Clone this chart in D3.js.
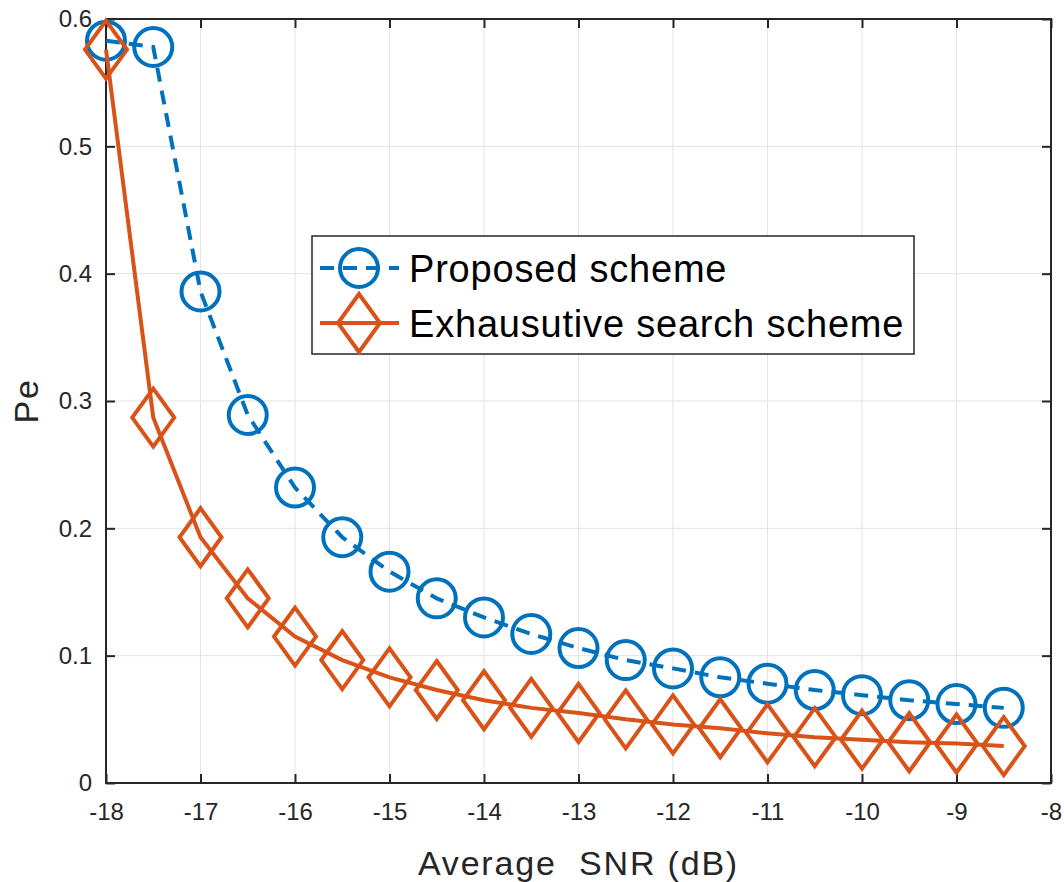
<!DOCTYPE html>
<html>
<head>
<meta charset="utf-8">
<script src="https://cdn.jsdelivr.net/npm/d3@7"></script>
<style>
  html, body { margin: 0; padding: 0; background: #fff; }
  svg { display: block; font-family: "Liberation Sans", Arial, Helvetica, sans-serif; }
  .title { white-space: pre; }
</style>
</head>
<body>
<svg id="chart" width="1064" height="882"></svg>
<script>
// SNR sweep (dB)
const snr = [-18, -17.5, -17, -16.5, -16, -15.5, -15, -14.5, -14, -13.5,
             -13, -12.5, -12, -11.5, -11, -10.5, -10, -9.5, -9, -8.5];
// Error probability of the proposed scheme
const peProposed = [0.583, 0.578, 0.386, 0.289, 0.232, 0.193, 0.166, 0.145, 0.130, 0.117,
                    0.106, 0.0965, 0.090, 0.083, 0.078, 0.073, 0.069, 0.065, 0.062, 0.059];
// Error probability of exhaustive search
const peExhaustive = [0.576, 0.287, 0.193, 0.145, 0.115, 0.0965, 0.083, 0.073, 0.065, 0.059,
                      0.055, 0.050, 0.046, 0.043, 0.039, 0.036, 0.034, 0.032, 0.031, 0.029];
const xTicks = [-18, -17, -16, -15, -14, -13, -12, -11, -10, -9, -8];
const yTicks = [0, 0.1, 0.2, 0.3, 0.4, 0.5, 0.6];
const seriesNames = ["Proposed scheme", "Exhausutive search scheme"];

const BLUE = "#0072BD", ORANGE = "#D95319", AXIS = "#262626";
const svg = d3.select("#chart");
const L = 106, R = 1051, T = 19, B = 783;

const x = d3.scaleLinear().domain([-18, -8]).range([L, R]);
const y = d3.scaleLinear().domain([0, 0.6]).range([B, T]);

// grid
const grid = svg.append("g").attr("stroke", "#e3e3e3").attr("stroke-width", 1);
grid.selectAll(".gx").data(xTicks.slice(1, -1)).join("line")
  .attr("x1", d => x(d)).attr("x2", d => x(d)).attr("y1", T).attr("y2", B);
grid.selectAll(".gy").data(yTicks.slice(1, -1)).join("line")
  .attr("y1", d => y(d)).attr("y2", d => y(d)).attr("x1", L).attr("x2", R);

// axes with inward ticks on all four sides
const fmt = d => String(d);
const axisStyle = g => {
  g.selectAll(".domain").remove();
  g.selectAll(".tick line").attr("stroke", AXIS).attr("stroke-width", 2);
  g.selectAll(".tick text").attr("fill", AXIS).style("font-size", "24px")
    .style("font-family", "'Liberation Sans', Arial, sans-serif");
};
svg.append("g").attr("transform", `translate(0,${B})`)
  .call(d3.axisBottom(x).tickValues(xTicks).tickFormat(fmt).tickSizeInner(-9).tickSizeOuter(0).tickPadding(20))
  .call(axisStyle)
  .call(g => g.selectAll(".tick text").attr("dy", "0.71em"));
svg.append("g").attr("transform", `translate(0,${T})`)
  .call(d3.axisTop(x).tickValues(xTicks).tickFormat("").tickSizeInner(-9).tickSizeOuter(0))
  .call(axisStyle);
svg.append("g").attr("transform", `translate(${L},0)`)
  .call(d3.axisLeft(y).tickValues(yTicks).tickFormat(fmt).tickSizeInner(-9).tickSizeOuter(0).tickPadding(14))
  .call(axisStyle);
svg.append("g").attr("transform", `translate(${R},0)`)
  .call(d3.axisRight(y).tickValues(yTicks).tickFormat("").tickSizeInner(-9).tickSizeOuter(0))
  .call(axisStyle);

svg.append("rect").attr("x", L).attr("y", T).attr("width", R - L).attr("height", B - T)
  .attr("fill", "none").attr("stroke", AXIS).attr("stroke-width", 2);

// axis titles
svg.append("text").attr("class", "title").attr("x", (L + R) / 2).attr("y", 875).attr("text-anchor", "middle")
  .attr("fill", AXIS).style("font-size", "34px").style("letter-spacing", "1.8px")
  .text("Average  SNR (dB)");
svg.append("text").attr("transform", `translate(38,${(T + B) / 2}) rotate(-90)`)
  .attr("text-anchor", "middle").attr("fill", AXIS).style("font-size", "34px").style("letter-spacing", "1.8px")
  .text("Pe");

// markers
const circleMark = (g, cx, cy) => g.append("circle").attr("cx", cx).attr("cy", cy).attr("r", 19)
  .attr("fill", "none").attr("stroke", BLUE).attr("stroke-width", 4);
const diamondMark = (g, cx, cy) => g.append("path")
  .attr("d", `M${cx},${cy - 29}L${cx + 21},${cy}L${cx},${cy + 29}L${cx - 21},${cy}Z`)
  .attr("fill", "none").attr("stroke", ORANGE).attr("stroke-width", 4).attr("stroke-linejoin", "miter");

const line = d3.line().x(d => x(d[0])).y(d => y(d[1]));
const blueData = snr.map((s, i) => [s, peProposed[i]]);
const orangeData = snr.map((s, i) => [s, peExhaustive[i]]);

svg.append("path").datum(blueData).attr("d", line).attr("fill", "none")
  .attr("stroke", BLUE).attr("stroke-width", 4).attr("stroke-dasharray", "14,9");
const gb = svg.append("g");
blueData.forEach(d => circleMark(gb, x(d[0]), y(d[1])));

svg.append("path").datum(orangeData).attr("d", line).attr("fill", "none")
  .attr("stroke", ORANGE).attr("stroke-width", 4);
const go = svg.append("g");
orangeData.forEach(d => diamondMark(go, x(d[0]), y(d[1])));

// legend
const lg = svg.append("g");
lg.append("rect").attr("x", 312).attr("y", 236).attr("width", 602).attr("height", 118)
  .attr("fill", "#fff").attr("stroke", AXIS).attr("stroke-width", 1.5);
const rows = [268, 323];
lg.append("line").attr("x1", 320).attr("x2", 399).attr("y1", rows[0]).attr("y2", rows[0])
  .attr("stroke", BLUE).attr("stroke-width", 4).attr("stroke-dasharray", "14,9");
circleMark(lg, 359, rows[0]);
lg.append("line").attr("x1", 320).attr("x2", 399).attr("y1", rows[1]).attr("y2", rows[1])
  .attr("stroke", ORANGE).attr("stroke-width", 4);
diamondMark(lg, 359, rows[1]);
seriesNames.forEach((n, i) => {
  lg.append("text").attr("x", 409).attr("y", rows[i]).attr("dy", "0.36em")
    .attr("fill", "#000").style("font-size", "38px").style("letter-spacing", "0.8px").text(n);
});
</script>
</body>
</html>
